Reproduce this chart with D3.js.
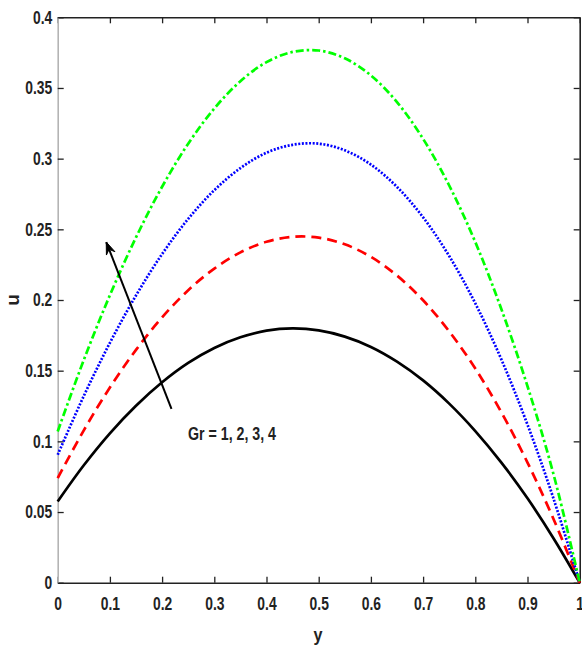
<!DOCTYPE html>
<html>
<head>
<meta charset="utf-8">
<script src="https://cdn.jsdelivr.net/npm/d3@7"></script>
<style>
  html, body { margin: 0; padding: 0; background: #fff; }
  svg text { font-family: "Liberation Sans", Arial, sans-serif; font-weight: bold; fill: #222; }
</style>
</head>
<body>
<svg id="chart" width="582" height="649"></svg>
<script>
// ---- data ----
const yPos = [0, 0.05, 0.1, 0.15, 0.2, 0.25, 0.3, 0.35, 0.4, 0.45, 0.5, 0.55, 0.6, 0.65, 0.7, 0.75, 0.8, 0.85, 0.9, 0.95, 1];
const uGr1 = [0.0575, 0.0831, 0.1057, 0.1252, 0.1418, 0.1555, 0.1661, 0.1736, 0.1783, 0.1799, 0.1785, 0.1741, 0.1668, 0.1564, 0.1431, 0.1267, 0.1073, 0.0850, 0.0597, 0.0313, 0];
const uGr2 = [0.074, 0.1078, 0.1381, 0.1647, 0.1877, 0.2069, 0.2222, 0.2337, 0.2412, 0.2447, 0.2441, 0.2394, 0.2305, 0.2173, 0.1998, 0.1778, 0.1515, 0.1205, 0.0850, 0.0449, 0];
const uGr3 = [0.0905, 0.1321, 0.1697, 0.2032, 0.2325, 0.2574, 0.2777, 0.2933, 0.3042, 0.3098, 0.3106, 0.3059, 0.2958, 0.2800, 0.2585, 0.2311, 0.1976, 0.1579, 0.1118, 0.0593, 0];
const uGr4 = [0.107, 0.1576, 0.2034, 0.2443, 0.2801, 0.3106, 0.3355, 0.3548, 0.3683, 0.3755, 0.3765, 0.3710, 0.3589, 0.3400, 0.3140, 0.2810, 0.2410, 0.1935, 0.1390, 0.0765, 0];
const xTicks = [0, 0.1, 0.2, 0.3, 0.4, 0.5, 0.6, 0.7, 0.8, 0.9, 1];
const yTicks = [0, 0.05, 0.1, 0.15, 0.2, 0.25, 0.3, 0.35, 0.4];
const seriesNames = ["Gr = 1", "Gr = 2", "Gr = 3", "Gr = 4"];
const annotation = "Gr = 1, 2, 3, 4";
const arrowFrom = [0.218, 0.123];
const arrowTo = [0.093, 0.241];

// ---- layout ----
const L = 57.7, R = 579.7, T = 17.3, B = 582.7;
const svg = d3.select("#chart");
const x = d3.scaleLinear().domain([0, 1]).range([L, R]);
const y = d3.scaleLinear().domain([0, 0.4]).range([B, T]);

const series = [
  { name: seriesNames[0], vals: uGr1, color: "#000000", dash: null, w: 2.7 },
  { name: seriesNames[1], vals: uGr2, color: "#ff0000", dash: "10,6", w: 2.7 },
  { name: seriesNames[2], vals: uGr3, color: "#0000ff", dash: "2,1.6", w: 2.7 },
  { name: seriesNames[3], vals: uGr4, color: "#00ff00", dash: "8,3,2.5,3", w: 2.7 }
];

const line = d3.line().x(d => x(d[0])).y(d => y(d[1])).curve(d3.curveCatmullRom.alpha(0.5));

// condense text horizontally (narrow bold look)
function condense(sel, f) {
  sel.each(function () {
    const len = this.getComputedTextLength();
    d3.select(this).attr("textLength", len * f).attr("lengthAdjust", "spacingAndGlyphs");
  });
}

const tickLen = 6;
const axB = d3.axisBottom(x).tickValues(xTicks).tickSizeInner(-tickLen).tickSizeOuter(0).tickPadding(15)
  .tickFormat(d => d3.format("")(d));
const axT = d3.axisTop(x).tickValues(xTicks).tickSizeInner(-tickLen).tickSizeOuter(0).tickFormat("");
const axL = d3.axisLeft(y).tickValues(yTicks).tickSizeInner(-tickLen).tickSizeOuter(0).tickPadding(5.5)
  .tickFormat(d => d3.format("")(+d.toFixed(2)));
const axR = d3.axisRight(y).tickValues(yTicks).tickSizeInner(-tickLen).tickSizeOuter(0).tickFormat("");

function styleAx(g, col) {
  g.select(".domain").attr("stroke", col).attr("stroke-width", 1.6);
  g.selectAll(".tick line").attr("stroke", "#222").attr("stroke-width", 1.3);
  g.selectAll(".tick text").attr("font-size", 18).attr("fill", "#222")
    .style("font-family", '"Liberation Sans", Arial, sans-serif')
    .style("font-weight", "bold");
  condense(g.selectAll(".tick text"), 0.77);
}

const gB = svg.append("g").attr("transform", `translate(0,${B})`).call(axB); styleAx(gB, "#222");
const gT = svg.append("g").attr("transform", `translate(0,${T})`).call(axT); styleAx(gT, "#222");
const gL = svg.append("g").attr("transform", `translate(${L},0)`).call(axL); styleAx(gL, "#b4b4b4");
const gR = svg.append("g").attr("transform", `translate(${R},0)`).call(axR); styleAx(gR, "#222");

// curves
series.forEach(s => {
  const pts = yPos.map((v, i) => [v, s.vals[i]]);
  svg.append("path").datum(pts)
    .attr("d", line)
    .attr("fill", "none")
    .attr("stroke", s.color)
    .attr("stroke-width", s.w)
    .attr("stroke-dasharray", s.dash)
    .attr("stroke-linejoin", "round");
});

// arrow
const ax0 = x(arrowFrom[0]), ay0 = y(arrowFrom[1]), ax1 = x(arrowTo[0]), ay1 = y(arrowTo[1]);
svg.append("line").attr("x1", ax0).attr("y1", ay0).attr("x2", ax1).attr("y2", ay1)
  .attr("stroke", "#000").attr("stroke-width", 2);
const ang = Math.atan2(ay1 - ay0, ax1 - ax0);
const hl = 13, ha = 0.36;
const p1 = [ax1 - hl * Math.cos(ang - ha), ay1 - hl * Math.sin(ang - ha)];
const p2 = [ax1 - hl * Math.cos(ang + ha), ay1 - hl * Math.sin(ang + ha)];
const pm = [ax1 - hl * 0.6 * Math.cos(ang), ay1 - hl * 0.6 * Math.sin(ang)];
svg.append("path").attr("d", `M${p1[0]},${p1[1]}L${ax1},${ay1}L${p2[0]},${p2[1]}L${pm[0]},${pm[1]}Z`)
  .attr("fill", "#000").attr("stroke", "#000").attr("stroke-width", 1);

// annotation
const ann = svg.append("text").attr("x", 188).attr("y", 440).attr("font-size", 18).text(annotation);
ann.attr("textLength", 88).attr("lengthAdjust", "spacingAndGlyphs");

// axis labels
const xl = svg.append("text").attr("x", 318).attr("y", 641).attr("text-anchor", "middle").attr("font-size", 19).text("y");
condense(xl, 0.85);
const yl = svg.append("text").attr("transform", "translate(19,300) rotate(-90)").attr("text-anchor", "middle").attr("font-size", 19).text("u");
</script>
</body>
</html>
